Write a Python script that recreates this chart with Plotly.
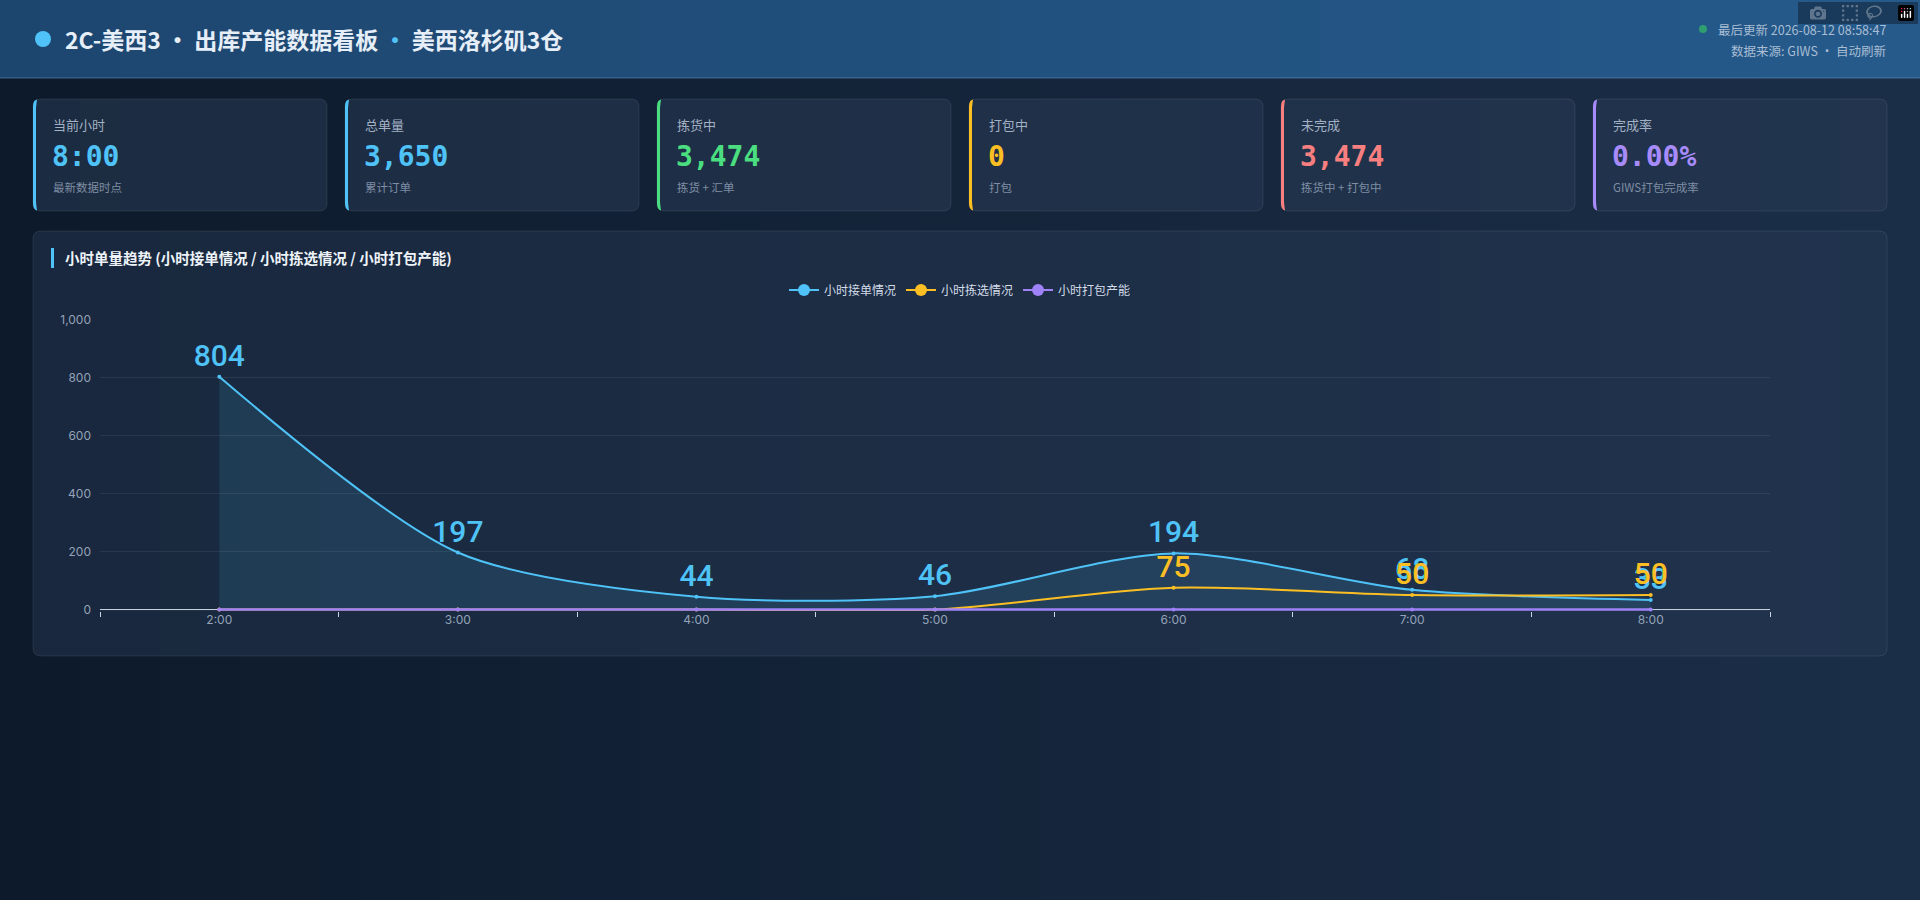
import plotly.graph_objects as go

W, H = 1920, 900

# ---- data ----
hours = ["2:00", "3:00", "4:00", "5:00", "6:00", "7:00", "8:00"]
orders_in = [804, 197, 44, 46, 194, 68, 33]      # 小时接单情况
picked = [0, 0, 0, 0, 75, 50, 50]                # 小时拣选情况
packed = [0, 0, 0, 0, 0, 0, 0]                   # 小时打包产能
series_names = ["小时接单情况", "小时拣选情况", "小时打包产能"]
y_ticks = [0, 200, 400, 600, 800, 1000]

card_labels = ["当前小时", "总单量", "拣货中", "打包中", "未完成", "完成率"]
card_values = ["8:00", "3,650", "3,474", "0", "3,474", "0.00%"]
card_subs = ["最新数据时点", "累计订单", "拣货 + 汇单", "打包", "拣货中 + 打包中", "GIWS打包完成率"]

BLUE = "#4fc3f7"
YELLOW = "#fbbf24"
PURPLE = "#9f82f7"
GREEN = "#4ade80"
RED = "#f77f7f"
card_colors = [BLUE, BLUE, GREEN, YELLOW, RED, "#a78bfa"]
line_colors = [BLUE, YELLOW, PURPLE]

CJK = "Noto Sans CJK SC, Inter, sans-serif"


def X(px):
    return px / W


def Y(py):
    return 1 - py / H


def lerp_color(c1, c2, t):
    a = [int(c1[i:i + 2], 16) for i in (1, 3, 5)]
    b = [int(c2[i:i + 2], 16) for i in (1, 3, 5)]
    return "rgb(%d,%d,%d)" % tuple(round(a[k] + (b[k] - a[k]) * t) for k in range(3))


def to_path(segs):
    out = ""
    for seg in segs:
        pts = seg[1:]
        out += seg[0] + " " + " ".join("%.5f,%.5f" % (X(pts[i]), Y(pts[i + 1])) for i in range(0, len(pts), 2)) + " "
    return out + "Z"


def rrect(x0, y0, x1, y1, r):
    return to_path([("M", x0 + r, y0), ("L", x1 - r, y0), ("Q", x1, y0, x1, y0 + r),
                    ("L", x1, y1 - r), ("Q", x1, y1, x1 - r, y1), ("L", x0 + r, y1),
                    ("Q", x0, y1, x0, y1 - r), ("L", x0, y0 + r), ("Q", x0, y0, x0 + r, y0)])


def accent(x0, y0, y1, r):
    return to_path([("M", x0 + 4, y0 + 0.5), ("Q", x0, y0 + 1, x0, y0 + r),
                    ("L", x0, y1 - r), ("Q", x0, y1 - 1, x0 + 4, y1 - 0.5),
                    ("Q", x0 + 3, y1 - r, x0 + 3, y1 - r - 2), ("L", x0 + 3, y0 + r + 2),
                    ("Q", x0 + 3, y0 + r, x0 + 4, y0 + 0.5)])


shapes = []
# page background gradient
n = 48
for i in range(n):
    shapes.append(dict(type="rect", xref="paper", yref="paper", layer="below",
                       x0=i / n, x1=(i + 1) / n + 0.001, y0=0, y1=Y(78),
                       fillcolor=lerp_color("#0d1a2b", "#1b2e48", i / (n - 1)), line_width=0))
# header gradient
for i in range(n):
    shapes.append(dict(type="rect", xref="paper", yref="paper", layer="below",
                       x0=i / n, x1=(i + 1) / n + 0.001, y0=Y(78), y1=1,
                       fillcolor=lerp_color("#1d466f", "#255a8b", i / (n - 1)), line_width=0))
shapes.append(dict(type="line", xref="paper", yref="paper", layer="below",
                   x0=0, x1=1, y0=Y(78), y1=Y(78), line=dict(color="rgba(120,170,225,0.45)", width=1)))
# title dot and status dot
shapes.append(dict(type="circle", xref="paper", yref="paper", x0=X(35), x1=X(51), y0=Y(47), y1=Y(31),
                   fillcolor=BLUE, line_width=0))
shapes.append(dict(type="circle", xref="paper", yref="paper", x0=X(1699), x1=X(1707), y0=Y(33), y1=Y(25),
                   fillcolor="#2f9e70", line_width=0))

annotations = [
    dict(x=X(63), y=Y(39), xref="paper", yref="paper", xanchor="left", yanchor="middle", showarrow=False,
         text="<b>2C-美西3 · 出库产能数据看板 <span style='color:#4fc3f7'>·</span> 美西洛杉矶3仓</b>",
         font=dict(family=CJK, size=23, color="#e6eef8")),
    dict(x=X(1888), y=Y(29), xref="paper", yref="paper", xanchor="right", yanchor="middle", showarrow=False,
         text="最后更新 2026-08-12 08:58:47", font=dict(family=CJK, size=12.5, color="#a9bdd3")),
    dict(x=X(1888), y=Y(50), xref="paper", yref="paper", xanchor="right", yanchor="middle", showarrow=False,
         text="数据来源: GIWS · 自动刷新", font=dict(family=CJK, size=12.5, color="#a9bdd3")),
]

# KPI cards
card_w, gap, cx0 = 294, 18, 33
for i in range(6):
    x0 = cx0 + i * (card_w + gap)
    x1 = x0 + card_w
    shapes.append(dict(type="path", xref="paper", yref="paper", layer="below", path=rrect(x0, 99, x1, 211, 8),
                       fillcolor="rgba(40,58,84,0.55)", line=dict(color="rgba(255,255,255,0.09)", width=1)))
    shapes.append(dict(type="path", xref="paper", yref="paper", layer="below", path=accent(x0, 99, 211, 8),
                       fillcolor=card_colors[i], line_width=0))
    annotations.append(dict(x=X(x0 + 18), y=Y(125), xref="paper", yref="paper", xanchor="left", yanchor="middle",
                            showarrow=False, text=card_labels[i], font=dict(family=CJK, size=13, color="#a3b1c4")))
    annotations.append(dict(x=X(x0 + 17), y=Y(157), xref="paper", yref="paper", xanchor="left", yanchor="middle",
                            showarrow=False, text="<b>" + card_values[i] + "</b>",
                            font=dict(family="DejaVu Sans Mono", size=28, color=card_colors[i])))
    annotations.append(dict(x=X(x0 + 18), y=Y(187), xref="paper", yref="paper", xanchor="left", yanchor="middle",
                            showarrow=False, text=card_subs[i], font=dict(family=CJK, size=11.5, color="#7f8ea4")))

# chart panel
shapes.append(dict(type="path", xref="paper", yref="paper", layer="below", path=rrect(33, 231, 1887, 656, 8),
                   fillcolor="rgba(40,58,84,0.45)", line=dict(color="rgba(255,255,255,0.09)", width=1)))
shapes.append(dict(type="rect", xref="paper", yref="paper", x0=X(51), x1=X(54), y0=Y(268), y1=Y(248),
                   fillcolor=BLUE, line_width=0))
annotations.append(dict(x=X(63), y=Y(258), xref="paper", yref="paper", xanchor="left", yanchor="middle",
                        showarrow=False, text="<b>小时单量趋势 (小时接单情况 / 小时拣选情况 / 小时打包产能)</b>",
                        font=dict(family=CJK, size=14.5, color="#eef3f9")))
# x axis line at zero, under the traces
shapes.append(dict(type="line", xref="paper", yref="y", layer="below", x0=X(100), x1=X(1770), y0=0, y1=0,
                   line=dict(color="#cbd5e1", width=1)))

fig = go.Figure()
for vals, name, col in zip([orders_in, picked, packed], series_names, line_colors):
    fig.add_trace(go.Scatter(
        x=hours, y=vals, name=name, mode="lines+markers+text", showlegend=False,
        line=dict(color=col, width=2.5 if col == PURPLE else 2, shape="spline", smoothing=0.8),
        marker=dict(color=col, size=4),
        fill="tozeroy" if col == BLUE else None,
        fillcolor="rgba(79,195,247,0.12)",
        text=[str(v) if v else "" for v in vals], textposition="top center",
        textfont=dict(family="Roboto, Liberation Sans, sans-serif", size=30, color=col, weight=500),
        cliponaxis=False, hoverinfo="x+y+name",
    ))
# legend entries
for name, col in zip(series_names, line_colors):
    fig.add_trace(go.Scatter(x=[None], y=[None], name=name, mode="lines+markers",
                             line=dict(color=col, width=2), marker=dict(color=col, size=12)))

fig.update_layout(
    width=W, height=H, margin=dict(l=0, r=0, t=0, b=0, pad=0, autoexpand=False),
    paper_bgcolor="#0f1c2e", plot_bgcolor="rgba(0,0,0,0)",
    font=dict(family=CJK, color="#94a3b8"),
    shapes=shapes, annotations=annotations,
    showlegend=True,
    legend=dict(orientation="h", x=0.5, xanchor="center", y=Y(290), yanchor="middle",
                font=dict(family=CJK, size=12, color="#d3dce8"), itemwidth=30,
                bgcolor="rgba(0,0,0,0)", traceorder="normal"),
    xaxis=dict(domain=[X(100), X(1770)], range=[-0.5, 6.5], type="category", automargin=False,
               tickson="boundaries", ticks="outside", ticklen=5, tickcolor="#cbd5e1",
               showline=False, showgrid=False, zeroline=False,
               tickfont=dict(family="Inter, sans-serif", size=12, color="#94a3b8"), fixedrange=True),
    yaxis=dict(domain=[Y(611), Y(320)], range=[-5, 1000], tickvals=y_ticks,
               tickformat=",", showgrid=True, gridcolor="rgba(255,255,255,0.07)", gridwidth=1, automargin=False,
               zeroline=False, showline=False, ticks="",
               ticklabelstandoff=8,
               tickfont=dict(family="Inter, sans-serif", size=12, color="#94a3b8"), fixedrange=True),
)

fig.write_html("out.html", post_script="document.body.style.margin='0';document.body.style.overflow='hidden';")
